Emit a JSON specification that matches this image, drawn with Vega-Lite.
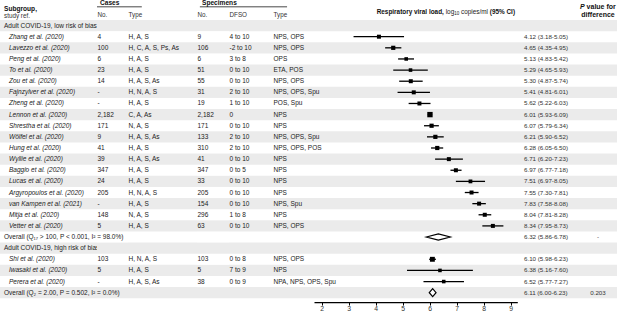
{
  "$schema": "https://vega.github.io/schema/vega-lite/v6.json",
  "padding": 0,
  "background": "white",
  "columns": 8,
  "spacing": 0,
  "bounds": "flush",
  "config": {
    "view": {"stroke": null},
    "concat": {"spacing": 0},
    "text": {"font": "Liberation Sans", "fontSize": 6.5, "color": "#222", "align": "left", "baseline": "middle"},
    "axis": {"labelFont": "Liberation Sans"}
  },
  "datasets": {
    "rows": [
      {"id": "g1", "kind": "group", "label": "Adult COVID-19, low risk of bias"},
      {"id": "s1", "kind": "study", "label": "Zhang et al. (2020)", "casesNo": "4", "casesType": "H, A, S", "specNo": "9", "dfso": "4 to 10", "specType": "NPS, OPS", "est": 4.12, "lo": 3.18, "hi": 5.05, "ci": "4.12 (3.18-5.05)", "w": 1},
      {"id": "s2", "kind": "study", "label": "Lavezzo et al. (2020)", "casesNo": "100", "casesType": "H, C, A, S, Ps, As", "specNo": "106", "dfso": "-2 to 10", "specType": "NPS, OPS", "est": 4.65, "lo": 4.35, "hi": 4.95, "ci": "4.65 (4.35-4.95)", "w": 1.1},
      {"id": "s3", "kind": "study", "label": "Peng et al. (2020)", "casesNo": "6", "casesType": "H, A, S", "specNo": "6", "dfso": "3 to 8", "specType": "OPS", "est": 5.13, "lo": 4.83, "hi": 5.42, "ci": "5.13 (4.83-5.42)", "w": 0.8},
      {"id": "s4", "kind": "study", "label": "To et al. (2020)", "casesNo": "23", "casesType": "H, A, S", "specNo": "51", "dfso": "0 to 10", "specType": "ETA, POS", "est": 5.29, "lo": 4.65, "hi": 5.93, "ci": "5.29 (4.65-5.93)", "w": 0.8},
      {"id": "s5", "kind": "study", "label": "Zou et al. (2020)", "casesNo": "14", "casesType": "H, A, S, As", "specNo": "55", "dfso": "0 to 10", "specType": "NPS, OPS", "est": 5.30, "lo": 4.87, "hi": 5.74, "ci": "5.30 (4.87-5.74)", "w": 1},
      {"id": "s6", "kind": "study", "label": "Fajnzylver et al. (2020)", "casesNo": "-", "casesType": "H, N, A, S", "specNo": "31", "dfso": "2 to 10", "specType": "NPS, OPS, Spu", "est": 5.41, "lo": 4.81, "hi": 6.01, "ci": "5.41 (4.81-6.01)", "w": 1},
      {"id": "s7", "kind": "study", "label": "Zheng et al. (2020)", "casesNo": "-", "casesType": "H, A, S", "specNo": "19", "dfso": "1 to 10", "specType": "POS, Spu", "est": 5.62, "lo": 5.22, "hi": 6.03, "ci": "5.62 (5.22-6.03)", "w": 1},
      {"id": "s8", "kind": "study", "label": "Lennon et al. (2020)", "casesNo": "2,182", "casesType": "C, A, As", "specNo": "2,182", "dfso": "0", "specType": "NPS", "est": 6.01, "lo": 5.93, "hi": 6.09, "ci": "6.01 (5.93-6.09)", "w": 1.8},
      {"id": "s9", "kind": "study", "label": "Shrestha et al. (2020)", "casesNo": "171", "casesType": "N, A, S", "specNo": "171", "dfso": "0 to 10", "specType": "NPS", "est": 6.07, "lo": 5.79, "hi": 6.34, "ci": "6.07 (5.79-6.34)", "w": 1.1},
      {"id": "s10", "kind": "study", "label": "Wölfel et al. (2020)", "casesNo": "9", "casesType": "H, A, S, As", "specNo": "133", "dfso": "2 to 10", "specType": "NPS, OPS, Spu", "est": 6.21, "lo": 5.90, "hi": 6.52, "ci": "6.21 (5.90-6.52)", "w": 1.1},
      {"id": "s11", "kind": "study", "label": "Hung et al. (2020)", "casesNo": "41", "casesType": "H, A, S", "specNo": "310", "dfso": "2 to 10", "specType": "NPS, OPS, POS", "est": 6.28, "lo": 6.05, "hi": 6.50, "ci": "6.28 (6.05-6.50)", "w": 1.1},
      {"id": "s12", "kind": "study", "label": "Wyllie et al. (2020)", "casesNo": "39", "casesType": "H, A, S, As", "specNo": "41", "dfso": "0 to 10", "specType": "NPS", "est": 6.71, "lo": 6.20, "hi": 7.23, "ci": "6.71 (6.20-7.23)", "w": 1},
      {"id": "s13", "kind": "study", "label": "Baggio et al. (2020)", "casesNo": "347", "casesType": "H, A, S", "specNo": "347", "dfso": "0 to 5", "specType": "NPS", "est": 6.97, "lo": 6.77, "hi": 7.18, "ci": "6.97 (6.77-7.18)", "w": 1},
      {"id": "s14", "kind": "study", "label": "Lucas et al. (2020)", "casesNo": "24", "casesType": "H, A, S", "specNo": "33", "dfso": "0 to 10", "specType": "NPS", "est": 7.51, "lo": 6.97, "hi": 8.05, "ci": "7.51 (6.97-8.05)", "w": 0.9},
      {"id": "s15", "kind": "study", "label": "Argyropoulos et al. (2020)", "casesNo": "205", "casesType": "H, N, A, S", "specNo": "205", "dfso": "0 to 10", "specType": "NPS", "est": 7.55, "lo": 7.30, "hi": 7.81, "ci": "7.55 (7.30-7.81)", "w": 1},
      {"id": "s16", "kind": "study", "label": "van Kampen et al. (2021)", "casesNo": "-", "casesType": "H, A, S", "specNo": "154", "dfso": "0 to 10", "specType": "NPS, Spu", "est": 7.83, "lo": 7.58, "hi": 8.08, "ci": "7.83 (7.58-8.08)", "w": 1},
      {"id": "s17", "kind": "study", "label": "Mitja et al. (2020)", "casesNo": "148", "casesType": "N, A, S", "specNo": "296", "dfso": "1 to 8", "specType": "NPS", "est": 8.04, "lo": 7.81, "hi": 8.28, "ci": "8.04 (7.81-8.28)", "w": 1},
      {"id": "s18", "kind": "study", "label": "Vetter et al. (2020)", "casesNo": "5", "casesType": "H, A, S", "specNo": "63", "dfso": "0 to 10", "specType": "NPS, OPS", "est": 8.34, "lo": 7.95, "hi": 8.73, "ci": "8.34 (7.95-8.73)", "w": 1},
      {"id": "o1", "kind": "overall", "label": "Overall (Q₁₇ > 100, P < 0.001, I² = 98.0%)", "est": 6.32, "lo": 5.86, "hi": 6.78, "ci": "6.32 (5.86-6.78)", "p": "-"},
      {"id": "g2", "kind": "group", "label": "Adult COVID-19, high risk of bias"},
      {"id": "s19", "kind": "study", "label": "Shi et al. (2020)", "casesNo": "103", "casesType": "H, N, A, S", "specNo": "103", "dfso": "0 to 8", "specType": "NPS, OPS", "est": 6.10, "lo": 5.98, "hi": 6.23, "ci": "6.10 (5.98-6.23)", "w": 1.5},
      {"id": "s20", "kind": "study", "label": "Iwasaki et al. (2020)", "casesNo": "5", "casesType": "H, A, S", "specNo": "5", "dfso": "7 to 9", "specType": "NPS", "est": 6.38, "lo": 5.16, "hi": 7.60, "ci": "6.38 (5.16-7.60)", "w": 0.8},
      {"id": "s21", "kind": "study", "label": "Perera et al. (2020)", "casesNo": "-", "casesType": "H, A, S, As", "specNo": "38", "dfso": "0 to 9", "specType": "NPA, NPS, OPS, Spu", "est": 6.52, "lo": 5.77, "hi": 7.27, "ci": "6.52 (5.77-7.27)", "w": 0.8},
      {"id": "o2", "kind": "overall", "label": "Overall (Q₂ = 2.00, P = 0.502, I² = 0.0%)", "est": 6.11, "lo": 6.00, "hi": 6.23, "ci": "6.11 (6.00-6.23)", "p": "0.203"}
    ]
  },
  "concat": [
    {
      "width": 97, "height": 19.5, "data": {"values": [{}]},
      "layer": [
        {"mark": {"type": "text", "text": "Subgroup,", "fontWeight": "bold", "fontSize": 6.6, "dx": 4, "color": "#111"},
         "encoding": {"x": {"datum": 0, "type": "quantitative", "scale": {"domain": [0, 1]}, "axis": null}, "y": {"datum": 0.48, "type": "quantitative", "scale": {"domain": [0, 1], "reverse": true}, "axis": null}}},
        {"mark": {"type": "text", "text": "study ref.", "fontSize": 6.3, "dx": 4, "color": "#333"},
         "encoding": {"x": {"datum": 0, "type": "quantitative", "scale": {"domain": [0, 1]}, "axis": null}, "y": {"datum": 0.8, "type": "quantitative", "scale": {"domain": [0, 1], "reverse": true}, "axis": null}}}
      ]
    },
    {
      "width": 31, "height": 19.5, "data": {"values": [{}]},
      "layer": [
        {"mark": {"type": "text", "text": "Cases", "fontWeight": "bold", "fontSize": 6.6, "dx": 3, "color": "#111"},
         "encoding": {"x": {"datum": 0, "type": "quantitative", "scale": {"domain": [0, 1]}, "axis": null}, "y": {"datum": 0.16, "type": "quantitative", "scale": {"domain": [0, 1], "reverse": true}, "axis": null}}},
        {"mark": {"type": "rule", "color": "#333", "strokeWidth": 0.9},
         "encoding": {"x": {"datum": 0, "type": "quantitative", "scale": {"domain": [0, 1]}, "axis": null}, "x2": {"datum": 1}, "y": {"datum": 0.35, "type": "quantitative", "scale": {"domain": [0, 1], "reverse": true}, "axis": null}}},
        {"mark": {"type": "text", "text": "No.", "fontSize": 6.3, "dx": 0.5, "color": "#333"},
         "encoding": {"x": {"datum": 0, "type": "quantitative", "scale": {"domain": [0, 1]}, "axis": null}, "y": {"datum": 0.77, "type": "quantitative", "scale": {"domain": [0, 1], "reverse": true}, "axis": null}}}
      ]
    },
    {
      "width": 69, "height": 19.5, "data": {"values": [{}]},
      "layer": [
        {"mark": {"type": "rule", "color": "#333", "strokeWidth": 0.9},
         "encoding": {"x": {"datum": 0, "type": "quantitative", "scale": {"domain": [0, 1]}, "axis": null}, "x2": {"datum": 0.2}, "y": {"datum": 0.35, "type": "quantitative", "scale": {"domain": [0, 1], "reverse": true}, "axis": null}}},
        {"mark": {"type": "text", "text": "Type", "fontSize": 6.3, "dx": 0.5, "color": "#333"},
         "encoding": {"x": {"datum": 0, "type": "quantitative", "scale": {"domain": [0, 1]}, "axis": null}, "y": {"datum": 0.77, "type": "quantitative", "scale": {"domain": [0, 1], "reverse": true}, "axis": null}}}
      ]
    },
    {
      "width": 32, "height": 19.5, "data": {"values": [{}]},
      "layer": [
        {"mark": {"type": "rule", "color": "#333", "strokeWidth": 0.9},
         "encoding": {"x": {"datum": 0.09, "type": "quantitative", "scale": {"domain": [0, 1]}, "axis": null}, "x2": {"datum": 1}, "y": {"datum": 0.35, "type": "quantitative", "scale": {"domain": [0, 1], "reverse": true}, "axis": null}}},
        {"mark": {"type": "text", "text": "No.", "fontSize": 6.3, "dx": 0.5, "color": "#333"},
         "encoding": {"x": {"datum": 0, "type": "quantitative", "scale": {"domain": [0, 1]}, "axis": null}, "y": {"datum": 0.77, "type": "quantitative", "scale": {"domain": [0, 1], "reverse": true}, "axis": null}}},
        {"mark": {"type": "text", "text": "Specimens", "fontWeight": "bold", "fontSize": 6.6, "dx": 5, "color": "#111"},
         "encoding": {"x": {"datum": 0, "type": "quantitative", "scale": {"domain": [0, 1]}, "axis": null}, "y": {"datum": 0.16, "type": "quantitative", "scale": {"domain": [0, 1], "reverse": true}, "axis": null}}}
      ]
    },
    {
      "width": 44, "height": 19.5, "data": {"values": [{}]},
      "layer": [
        {"mark": {"type": "rule", "color": "#333", "strokeWidth": 0.9},
         "encoding": {"x": {"datum": 0, "type": "quantitative", "scale": {"domain": [0, 1]}, "axis": null}, "x2": {"datum": 1}, "y": {"datum": 0.35, "type": "quantitative", "scale": {"domain": [0, 1], "reverse": true}, "axis": null}}},
        {"mark": {"type": "text", "text": "DFSO", "fontSize": 6.3, "dx": 0.5, "color": "#333"},
         "encoding": {"x": {"datum": 0, "type": "quantitative", "scale": {"domain": [0, 1]}, "axis": null}, "y": {"datum": 0.77, "type": "quantitative", "scale": {"domain": [0, 1], "reverse": true}, "axis": null}}}
      ]
    },
    {
      "width": 251, "height": 19.5, "data": {"values": [{}]},
      "layer": [
        {"mark": {"type": "rule", "color": "#333", "strokeWidth": 0.9},
         "encoding": {"x": {"datum": 0, "type": "quantitative", "scale": {"domain": [0, 1]}, "axis": null}, "x2": {"datum": 0.056}, "y": {"datum": 0.35, "type": "quantitative", "scale": {"domain": [0, 1], "reverse": true}, "axis": null}}},
        {"mark": {"type": "text", "text": "Type", "fontSize": 6.3, "dx": 0.5, "color": "#333"},
         "encoding": {"x": {"datum": 0, "type": "quantitative", "scale": {"domain": [0, 1]}, "axis": null}, "y": {"datum": 0.77, "type": "quantitative", "scale": {"domain": [0, 1], "reverse": true}, "axis": null}}},
        {"mark": {"type": "text", "text": "Respiratory viral load,", "fontWeight": "bold", "fontSize": 6.4, "dx": 103.7, "color": "#111"},
         "encoding": {"x": {"datum": 0, "type": "quantitative", "scale": {"domain": [0, 1]}, "axis": null}, "y": {"datum": 0.63, "type": "quantitative", "scale": {"domain": [0, 1], "reverse": true}, "axis": null}}},
        {"mark": {"type": "text", "text": "log", "fontSize": 6.4, "dx": 172.7, "color": "#222"},
         "encoding": {"x": {"datum": 0, "type": "quantitative", "scale": {"domain": [0, 1]}, "axis": null}, "y": {"datum": 0.63, "type": "quantitative", "scale": {"domain": [0, 1], "reverse": true}, "axis": null}}},
        {"mark": {"type": "text", "text": "10", "fontSize": 4.5, "dx": 181.2, "color": "#222"},
         "encoding": {"x": {"datum": 0, "type": "quantitative", "scale": {"domain": [0, 1]}, "axis": null}, "y": {"datum": 0.72, "type": "quantitative", "scale": {"domain": [0, 1], "reverse": true}, "axis": null}}},
        {"mark": {"type": "text", "text": "copies/ml", "fontSize": 6.4, "dx": 188, "color": "#222"},
         "encoding": {"x": {"datum": 0, "type": "quantitative", "scale": {"domain": [0, 1]}, "axis": null}, "y": {"datum": 0.63, "type": "quantitative", "scale": {"domain": [0, 1], "reverse": true}, "axis": null}}},
        {"mark": {"type": "text", "text": "(95% CI)", "fontWeight": "bold", "fontSize": 6.4, "dx": 216.8, "color": "#111"},
         "encoding": {"x": {"datum": 0, "type": "quantitative", "scale": {"domain": [0, 1]}, "axis": null}, "y": {"datum": 0.63, "type": "quantitative", "scale": {"domain": [0, 1], "reverse": true}, "axis": null}}}
      ]
    },
    {
      "width": 55, "height": 19.5, "data": {"values": [{}]},
      "mark": {"type": "text", "text": " "},
      "encoding": {"x": {"datum": 0, "type": "quantitative", "scale": {"domain": [0, 1]}, "axis": null}, "y": {"datum": 0.5, "type": "quantitative", "scale": {"domain": [0, 1], "reverse": true}, "axis": null}}
    },
    {
      "width": 38, "height": 19.5, "data": {"values": [{}]},
      "layer": [
        {"mark": {"type": "text", "text": "P", "fontWeight": "bold", "fontStyle": "italic", "fontSize": 7, "dx": -18, "color": "#111"},
         "encoding": {"x": {"datum": 0.5, "type": "quantitative", "scale": {"domain": [0, 1]}, "axis": null}, "y": {"datum": 0.34, "type": "quantitative", "scale": {"domain": [0, 1], "reverse": true}, "axis": null}}},
        {"mark": {"type": "text", "text": "value for", "fontWeight": "bold", "fontSize": 7, "dx": -11.4, "color": "#111"},
         "encoding": {"x": {"datum": 0.5, "type": "quantitative", "scale": {"domain": [0, 1]}, "axis": null}, "y": {"datum": 0.34, "type": "quantitative", "scale": {"domain": [0, 1], "reverse": true}, "axis": null}}},
        {"mark": {"type": "text", "text": "difference", "fontWeight": "bold", "fontSize": 7, "align": "center", "color": "#111"},
         "encoding": {"x": {"datum": 0.5, "type": "quantitative", "scale": {"domain": [0, 1]}, "axis": null}, "y": {"datum": 0.77, "type": "quantitative", "scale": {"domain": [0, 1], "reverse": true}, "axis": null}}}
      ]
    },
    {
      "width": 97, "height": 278.25, "data": {"name": "rows"},
      "layer": [
        {"transform": [{"window": [{"op": "row_number", "as": "rn"}]}, {"filter": "datum.rn % 2 == 1"}],
         "mark": {"type": "rect", "color": "#ebebeb"},
         "encoding": {"y": {"field": "id", "type": "nominal", "scale": {"type": "band", "domain": ["g1","s1","s2","s3","s4","s5","s6","s7","s8","s9","s10","s11","s12","s13","s14","s15","s16","s17","s18","o1","g2","s19","s20","s21","o2"], "paddingInner": 0, "paddingOuter": 0}, "axis": null}}},
        {"transform": [{"filter": "datum.kind == 'study'"}],
         "mark": {"type": "text", "fontStyle": "italic", "dx": 9},
         "encoding": {"x": {"datum": 0, "type": "quantitative", "scale": {"domain": [0, 1]}, "axis": null},
                      "y": {"field": "id", "type": "nominal", "scale": {"type": "band", "domain": ["g1","s1","s2","s3","s4","s5","s6","s7","s8","s9","s10","s11","s12","s13","s14","s15","s16","s17","s18","o1","g2","s19","s20","s21","o2"], "paddingInner": 0, "paddingOuter": 0}, "axis": null},
                      "text": {"field": "label"}}},
        {"transform": [{"filter": "datum.kind == 'group'"}],
         "mark": {"type": "text", "dx": 4},
         "encoding": {"x": {"datum": 0, "type": "quantitative", "scale": {"domain": [0, 1]}, "axis": null},
                      "y": {"field": "id", "type": "nominal", "scale": {"type": "band", "domain": ["g1","s1","s2","s3","s4","s5","s6","s7","s8","s9","s10","s11","s12","s13","s14","s15","s16","s17","s18","o1","g2","s19","s20","s21","o2"], "paddingInner": 0, "paddingOuter": 0}, "axis": null},
                      "text": {"field": "label"}}}
      ]
    },
    {
      "width": 31, "height": 278.25, "data": {"name": "rows"},
      "layer": [
        {"transform": [{"window": [{"op": "row_number", "as": "rn"}]}, {"filter": "datum.rn % 2 == 1"}],
         "mark": {"type": "rect", "color": "#ebebeb"},
         "encoding": {"y": {"field": "id", "type": "nominal", "scale": {"type": "band", "domain": ["g1","s1","s2","s3","s4","s5","s6","s7","s8","s9","s10","s11","s12","s13","s14","s15","s16","s17","s18","o1","g2","s19","s20","s21","o2"], "paddingInner": 0, "paddingOuter": 0}, "axis": null}}},
        {"transform": [{"filter": "datum.kind == 'study'"}],
         "mark": {"type": "text", "dx": 0.5},
         "encoding": {"x": {"datum": 0, "type": "quantitative", "scale": {"domain": [0, 1]}, "axis": null},
                      "y": {"field": "id", "type": "nominal", "scale": {"type": "band", "domain": ["g1","s1","s2","s3","s4","s5","s6","s7","s8","s9","s10","s11","s12","s13","s14","s15","s16","s17","s18","o1","g2","s19","s20","s21","o2"], "paddingInner": 0, "paddingOuter": 0}, "axis": null},
                      "text": {"field": "casesNo"}}},
        {"transform": [{"filter": "datum.kind == 'overall'"}],
         "mark": {"type": "text", "dx": -93},
         "encoding": {"x": {"datum": 0, "type": "quantitative", "scale": {"domain": [0, 1]}, "axis": null},
                      "y": {"field": "id", "type": "nominal", "scale": {"type": "band", "domain": ["g1","s1","s2","s3","s4","s5","s6","s7","s8","s9","s10","s11","s12","s13","s14","s15","s16","s17","s18","o1","g2","s19","s20","s21","o2"], "paddingInner": 0, "paddingOuter": 0}, "axis": null},
                      "text": {"field": "label"}}}
      ]
    },
    {
      "width": 69, "height": 278.25, "data": {"name": "rows"},
      "layer": [
        {"transform": [{"window": [{"op": "row_number", "as": "rn"}]}, {"filter": "datum.rn % 2 == 1"}],
         "mark": {"type": "rect", "color": "#ebebeb"},
         "encoding": {"y": {"field": "id", "type": "nominal", "scale": {"type": "band", "domain": ["g1","s1","s2","s3","s4","s5","s6","s7","s8","s9","s10","s11","s12","s13","s14","s15","s16","s17","s18","o1","g2","s19","s20","s21","o2"], "paddingInner": 0, "paddingOuter": 0}, "axis": null}}},
        {"transform": [{"filter": "datum.kind == 'study'"}],
         "mark": {"type": "text", "dx": 0.5},
         "encoding": {"x": {"datum": 0, "type": "quantitative", "scale": {"domain": [0, 1]}, "axis": null},
                      "y": {"field": "id", "type": "nominal", "scale": {"type": "band", "domain": ["g1","s1","s2","s3","s4","s5","s6","s7","s8","s9","s10","s11","s12","s13","s14","s15","s16","s17","s18","o1","g2","s19","s20","s21","o2"], "paddingInner": 0, "paddingOuter": 0}, "axis": null},
                      "text": {"field": "casesType"}}}
      ]
    },
    {
      "width": 32, "height": 278.25, "data": {"name": "rows"},
      "layer": [
        {"transform": [{"window": [{"op": "row_number", "as": "rn"}]}, {"filter": "datum.rn % 2 == 1"}],
         "mark": {"type": "rect", "color": "#ebebeb"},
         "encoding": {"y": {"field": "id", "type": "nominal", "scale": {"type": "band", "domain": ["g1","s1","s2","s3","s4","s5","s6","s7","s8","s9","s10","s11","s12","s13","s14","s15","s16","s17","s18","o1","g2","s19","s20","s21","o2"], "paddingInner": 0, "paddingOuter": 0}, "axis": null}}},
        {"transform": [{"filter": "datum.kind == 'study'"}],
         "mark": {"type": "text", "dx": 0.5},
         "encoding": {"x": {"datum": 0, "type": "quantitative", "scale": {"domain": [0, 1]}, "axis": null},
                      "y": {"field": "id", "type": "nominal", "scale": {"type": "band", "domain": ["g1","s1","s2","s3","s4","s5","s6","s7","s8","s9","s10","s11","s12","s13","s14","s15","s16","s17","s18","o1","g2","s19","s20","s21","o2"], "paddingInner": 0, "paddingOuter": 0}, "axis": null},
                      "text": {"field": "specNo"}}}
      ]
    },
    {
      "width": 44, "height": 278.25, "data": {"name": "rows"},
      "layer": [
        {"transform": [{"window": [{"op": "row_number", "as": "rn"}]}, {"filter": "datum.rn % 2 == 1"}],
         "mark": {"type": "rect", "color": "#ebebeb"},
         "encoding": {"y": {"field": "id", "type": "nominal", "scale": {"type": "band", "domain": ["g1","s1","s2","s3","s4","s5","s6","s7","s8","s9","s10","s11","s12","s13","s14","s15","s16","s17","s18","o1","g2","s19","s20","s21","o2"], "paddingInner": 0, "paddingOuter": 0}, "axis": null}}},
        {"transform": [{"filter": "datum.kind == 'study'"}],
         "mark": {"type": "text", "dx": 0.5},
         "encoding": {"x": {"datum": 0, "type": "quantitative", "scale": {"domain": [0, 1]}, "axis": null},
                      "y": {"field": "id", "type": "nominal", "scale": {"type": "band", "domain": ["g1","s1","s2","s3","s4","s5","s6","s7","s8","s9","s10","s11","s12","s13","s14","s15","s16","s17","s18","o1","g2","s19","s20","s21","o2"], "paddingInner": 0, "paddingOuter": 0}, "axis": null},
                      "text": {"field": "dfso"}}}
      ]
    },
    {
      "width": 251, "height": 278.25, "data": {"name": "rows"},
      "resolve": {"scale": {"x": "independent"}},
      "layer": [
        {"transform": [{"window": [{"op": "row_number", "as": "rn"}]}, {"filter": "datum.rn % 2 == 1"}],
         "mark": {"type": "rect", "color": "#ebebeb"},
         "encoding": {"y": {"field": "id", "type": "nominal", "scale": {"type": "band", "domain": ["g1","s1","s2","s3","s4","s5","s6","s7","s8","s9","s10","s11","s12","s13","s14","s15","s16","s17","s18","o1","g2","s19","s20","s21","o2"], "paddingInner": 0, "paddingOuter": 0}, "axis": null}}},
        {"transform": [{"filter": "datum.kind == 'study'"}],
         "mark": {"type": "text", "dx": 0.5},
         "encoding": {"x": {"datum": 0, "type": "quantitative", "scale": {"domain": [0, 1]}, "axis": null},
                      "y": {"field": "id", "type": "nominal", "scale": {"type": "band", "domain": ["g1","s1","s2","s3","s4","s5","s6","s7","s8","s9","s10","s11","s12","s13","s14","s15","s16","s17","s18","o1","g2","s19","s20","s21","o2"], "paddingInner": 0, "paddingOuter": 0}, "axis": null},
                      "text": {"field": "specType"}}},
        {
          "layer": [
            {"transform": [{"filter": "datum.kind == 'study'"}],
             "mark": {"type": "rule", "color": "black", "strokeWidth": 1.3},
             "encoding": {
               "x": {"field": "lo", "type": "quantitative", "scale": {"domain": [1.715, 9.245], "range": [41, 244.3], "nice": false, "zero": false},
                     "axis": {"values": [2, 3, 4, 5, 6, 7, 8, 9], "title": null, "grid": false, "domainColor": "black", "domainWidth": 1.2, "tickColor": "black", "tickWidth": 1, "tickSize": 3, "labelFontSize": 6.8, "labelColor": "#333", "labelPadding": 0, "offset": 3.8, "orient": "bottom"}},
               "x2": {"field": "hi"},
               "y": {"field": "id", "type": "nominal", "scale": {"type": "band", "domain": ["g1","s1","s2","s3","s4","s5","s6","s7","s8","s9","s10","s11","s12","s13","s14","s15","s16","s17","s18","o1","g2","s19","s20","s21","o2"], "paddingInner": 0, "paddingOuter": 0}, "axis": null}}},
            {"transform": [{"filter": "datum.kind == 'study'"}],
             "mark": {"type": "point", "shape": "square", "filled": true, "color": "black", "opacity": 1},
             "encoding": {
               "x": {"field": "est", "type": "quantitative", "scale": {"domain": [1.715, 9.245], "range": [41, 244.3], "nice": false, "zero": false},
                     "axis": {"values": [2, 3, 4, 5, 6, 7, 8, 9], "title": null, "grid": false, "domainColor": "black", "domainWidth": 1.2, "tickColor": "black", "tickWidth": 1, "tickSize": 3, "labelFontSize": 6.8, "labelColor": "#333", "labelPadding": 0, "offset": 3.8, "orient": "bottom"}},
               "y": {"field": "id", "type": "nominal", "scale": {"type": "band", "domain": ["g1","s1","s2","s3","s4","s5","s6","s7","s8","s9","s10","s11","s12","s13","s14","s15","s16","s17","s18","o1","g2","s19","s20","s21","o2"], "paddingInner": 0, "paddingOuter": 0}, "axis": null},
               "size": {"field": "w", "type": "quantitative", "scale": {"domain": [0, 2], "range": [0, 32]}, "legend": null}}},
            {"transform": [{"filter": "datum.id == 'o1'"}],
             "mark": {"type": "point", "shape": "M-1,0L0,-0.26L1,0L0,0.26Z", "size": 576, "filled": true, "fill": "white", "stroke": "black", "strokeWidth": 1.2, "opacity": 1},
             "encoding": {
               "x": {"field": "est", "type": "quantitative", "scale": {"domain": [1.715, 9.245], "range": [41, 244.3], "nice": false, "zero": false},
                     "axis": {"values": [2, 3, 4, 5, 6, 7, 8, 9], "title": null, "grid": false, "domainColor": "black", "domainWidth": 1.2, "tickColor": "black", "tickWidth": 1, "tickSize": 3, "labelFontSize": 6.8, "labelColor": "#333", "labelPadding": 0, "offset": 3.8, "orient": "bottom"}},
               "y": {"field": "id", "type": "nominal", "scale": {"type": "band", "domain": ["g1","s1","s2","s3","s4","s5","s6","s7","s8","s9","s10","s11","s12","s13","s14","s15","s16","s17","s18","o1","g2","s19","s20","s21","o2"], "paddingInner": 0, "paddingOuter": 0}, "axis": null}}},
            {"transform": [{"filter": "datum.id == 'o2'"}],
             "mark": {"type": "point", "shape": "M-1,0L0,-1.18L1,0L0,1.18Z", "size": 46, "filled": true, "fill": "white", "stroke": "black", "strokeWidth": 1.2, "opacity": 1},
             "encoding": {
               "x": {"field": "est", "type": "quantitative", "scale": {"domain": [1.715, 9.245], "range": [41, 244.3], "nice": false, "zero": false},
                     "axis": {"values": [2, 3, 4, 5, 6, 7, 8, 9], "title": null, "grid": false, "domainColor": "black", "domainWidth": 1.2, "tickColor": "black", "tickWidth": 1, "tickSize": 3, "labelFontSize": 6.8, "labelColor": "#333", "labelPadding": 0, "offset": 3.8, "orient": "bottom"}},
               "y": {"field": "id", "type": "nominal", "scale": {"type": "band", "domain": ["g1","s1","s2","s3","s4","s5","s6","s7","s8","s9","s10","s11","s12","s13","s14","s15","s16","s17","s18","o1","g2","s19","s20","s21","o2"], "paddingInner": 0, "paddingOuter": 0}, "axis": null}}}
          ]
        }
      ]
    },
    {
      "width": 55, "height": 278.25, "data": {"name": "rows"},
      "layer": [
        {"transform": [{"window": [{"op": "row_number", "as": "rn"}]}, {"filter": "datum.rn % 2 == 1"}],
         "mark": {"type": "rect", "color": "#ebebeb"},
         "encoding": {"y": {"field": "id", "type": "nominal", "scale": {"type": "band", "domain": ["g1","s1","s2","s3","s4","s5","s6","s7","s8","s9","s10","s11","s12","s13","s14","s15","s16","s17","s18","o1","g2","s19","s20","s21","o2"], "paddingInner": 0, "paddingOuter": 0}, "axis": null}}},
        {"transform": [{"filter": "isValid(datum.ci)"}],
         "mark": {"type": "text", "fontSize": 6.2, "color": "#333"},
         "encoding": {"x": {"datum": 0, "type": "quantitative", "scale": {"domain": [0, 1]}, "axis": null},
                      "y": {"field": "id", "type": "nominal", "scale": {"type": "band", "domain": ["g1","s1","s2","s3","s4","s5","s6","s7","s8","s9","s10","s11","s12","s13","s14","s15","s16","s17","s18","o1","g2","s19","s20","s21","o2"], "paddingInner": 0, "paddingOuter": 0}, "axis": null},
                      "text": {"field": "ci"}}}
      ]
    },
    {
      "width": 38, "height": 278.25, "data": {"name": "rows"},
      "layer": [
        {"transform": [{"window": [{"op": "row_number", "as": "rn"}]}, {"filter": "datum.rn % 2 == 1"}],
         "mark": {"type": "rect", "color": "#ebebeb"},
         "encoding": {"y": {"field": "id", "type": "nominal", "scale": {"type": "band", "domain": ["g1","s1","s2","s3","s4","s5","s6","s7","s8","s9","s10","s11","s12","s13","s14","s15","s16","s17","s18","o1","g2","s19","s20","s21","o2"], "paddingInner": 0, "paddingOuter": 0}, "axis": null}}},
        {"transform": [{"filter": "isValid(datum.p)"}],
         "mark": {"type": "text", "fontSize": 6.2, "color": "#333", "align": "center"},
         "encoding": {"x": {"datum": 0.5, "type": "quantitative", "scale": {"domain": [0, 1]}, "axis": null},
                      "y": {"field": "id", "type": "nominal", "scale": {"type": "band", "domain": ["g1","s1","s2","s3","s4","s5","s6","s7","s8","s9","s10","s11","s12","s13","s14","s15","s16","s17","s18","o1","g2","s19","s20","s21","o2"], "paddingInner": 0, "paddingOuter": 0}, "axis": null},
                      "text": {"field": "p"}}}
      ]
    }
  ]
}
